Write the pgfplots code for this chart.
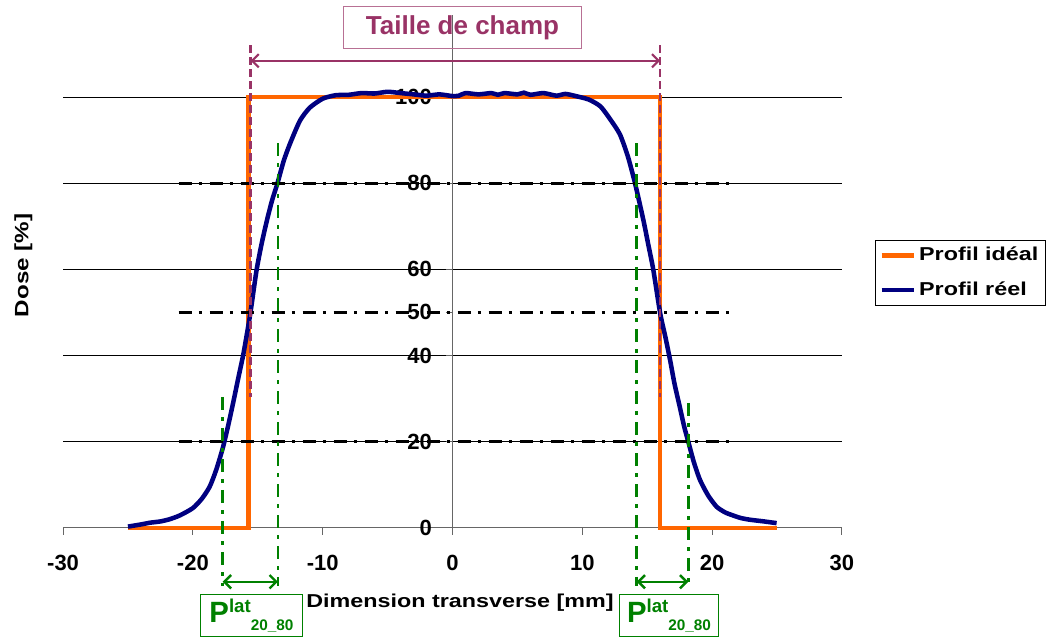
\documentclass[border=0pt]{standalone}
\usepackage{pgfplots}
\pgfplotsset{compat=1.18}
\usepackage{fontspec}
\setmainfont{Liberation Sans}
\newfontfamily\widefont[FakeStretch=1.25]{Liberation Sans}
\usetikzlibrary{arrows.meta}
\definecolor{idealorange}{RGB}{255,102,0}
\definecolor{realnavy}{RGB}{0,0,128}
\definecolor{plum}{RGB}{153,51,102}
\definecolor{pgreen}{RGB}{0,128,0}
\newcommand\fs[1]{\fontsize{#1}{#1}\selectfont}
\newcommand\plat{\bfseries\fs{22}P\raisebox{8pt}{\fs{14}lat}\raisebox{-6pt}{\fs{11.5}20\_80}}
\tikzset{dashdot/.style={dash pattern=on 9.75pt off 5.5pt on 2.5pt off 5.5pt}}
\begin{document}
\begin{tikzpicture}
\begin{axis}[
  x=9.737pt, y=3.2325pt,
  xmin=-30, xmax=30, ymin=0, ymax=119,
  axis x line=bottom, axis y line=center,
  axis line style={-, gray!80!black, line width=0.8pt},
  xtick={-30,-20,...,30},
  ytick={20,40,60,80,100},
  extra y ticks={0,50},
  extra y tick style={grid=none},
  ymajorgrids, grid style={black, line width=0.6pt},
  tick align=outside, major tick length=5pt,
  tick style={gray!80!black, line width=0.8pt},
  hide obscured x ticks=false, hide obscured y ticks=false,
  /pgf/number format/assume math mode=true,
  tick label style={font=\bfseries\fs{16.5}},
  xticklabel style={yshift=-12pt},
  yticklabel style={xshift=-7pt},
  clip=false,
  legend style={at={(axis cs:32.54,66.8)}, anchor=north west, draw=black,
    line width=0.6pt, font=\widefont\bfseries\fs{14}, inner xsep=3pt, inner ysep=2.5pt,
    row sep=8.5pt, cells={anchor=west},
    nodes={inner sep=2pt, text height=10.5pt, text depth=3pt}},
  legend image code/.code={\draw[#1] (0pt,0pt) -- (24.5pt,0pt);},
]
\addplot[idealorange, line width=3.4pt] coordinates {
  (-25,0) (-15.7,0) (-15.7,100) (16,100) (16,0) (25,0)
};
\addlegendentry{Profil idéal}
\addplot[realnavy, line width=3.4pt, smooth, tension=0.4] coordinates {
  (-25,0.3) (-24,0.8) (-23.3,1.2) (-22.5,1.5) (-21.8,2.0) (-21,2.9) (-20,4.6)
  (-19.3,6.8) (-18.7,9.6) (-18.2,13.5) (-17.7,18.5) (-17.3,23.5) (-16.9,29)
  (-16.5,34.8) (-16.1,40.5) (-15.6,49.3) (-15.1,59.7) (-14.7,66) (-14.3,71.3)
  (-13.9,76) (-13.5,79.8) (-13.0,85.2) (-12.5,89.3) (-11.75,94.5) (-11,97.5)
  (-10,99.6) (-9,100.4) (-8,100.5) (-7,100.9) (-6,100.8) (-5,101.2) (-4,100.9)
  (-3,100.6) (-2,100.3) (-1,100.6) (0,100.2) (0.5,100.3) (1,100.9) (2,100.6)
  (3,100.9) (3.5,100.5) (4,100.9) (5,100.6) (5.5,101) (6,100.5) (7,100.9)
  (8,100.3) (8.7,100.7) (9.5,100.2) (10.5,99.4) (11.4,97.8) (12.2,94.6)
  (12.9,91.3) (13.5,86.3) (14.06,80) (14.7,71.5) (15.1,65.5) (15.47,59.9)
  (16.0,49.8) (16.4,44.3) (16.76,39) (17.1,33.5) (17.5,28.2) (17.85,23.5)
  (18.2,19.6) (18.6,15.2) (19.07,11.1) (19.7,7.5) (20.35,4.9) (21,3.6)
  (21.6,2.9) (22.2,2.3) (22.9,1.9) (24,1.5) (24.97,1.1)
};
\addlegendentry{Profil réel}

% niveaux 80 / 50 / 20
\draw[black, line width=2.2pt, dashdot] (axis cs:-21.1,80) -- (axis cs:21.8,80);
\draw[black, line width=2.2pt, dashdot] (axis cs:-21.1,50) -- (axis cs:21.7,50);
\draw[black, line width=2.2pt, dashdot] (axis cs:-21.1,20) -- (axis cs:21.7,20);

% penombres
\draw[pgreen, line width=2pt, dashdot] (axis cs:-17.7,30.4) -- (axis cs:-17.7,-13.5);
\draw[pgreen, line width=2pt, dashdot] (axis cs:-13.45,89.3) -- (axis cs:-13.45,-13.5);
\draw[pgreen, line width=2pt, dashdot] (axis cs:14.19,89.3) -- (axis cs:14.19,-13.5);
\draw[pgreen, line width=2pt, dashdot] (axis cs:18.17,29) -- (axis cs:18.17,-13.5);
\draw[pgreen, line width=1.8pt, {Straight Barb[length=5pt,width=10pt]}-{Straight Barb[length=5pt,width=10pt]}]
  (axis cs:-17.7,-12.5) -- (axis cs:-13.45,-12.5);
\draw[pgreen, line width=1.8pt, {Straight Barb[length=5pt,width=10pt]}-{Straight Barb[length=5pt,width=10pt]}]
  (axis cs:14.19,-12.5) -- (axis cs:18.17,-12.5);
\node[draw=pgreen, line width=0.8pt, text=pgreen, minimum width=77pt,
  minimum height=31.5pt, inner sep=0pt] at (axis cs:-15.49,-20.4) {\plat};
\node[draw=pgreen, line width=0.8pt, text=pgreen, minimum width=74pt,
  minimum height=31.5pt, inner sep=0pt] at (axis cs:16.68,-20.4) {\plat};

% taille de champ
\draw[plum, line width=1.8pt, dash pattern=on 6pt off 3pt] (axis cs:-15.55,112) -- (axis cs:-15.55,30.4);
\draw[plum, line width=1.8pt, dash pattern=on 6pt off 3pt] (axis cs:16,112) -- (axis cs:16,30.4);
\draw[plum, line width=1.6pt, {Straight Barb[length=5pt,width=10pt]}-{Straight Barb[length=5pt,width=10pt]}]
  (axis cs:-15.55,108.4) -- (axis cs:16,108.4);
\node[draw=plum!70, line width=0.8pt, text=plum, font=\bfseries\fs{19.5},
  minimum width=178pt, minimum height=31pt] at (axis cs:0.77,116.1) {Taille de champ};

\node[rotate=90, anchor=base, font=\widefont\bfseries\fs{14.5}] at (axis cs:-32.67,60.9) {Dose [\%]};
\node[anchor=base, font=\widefont\bfseries\fs{14}] at (axis cs:0.58,-18.56) {Dimension transverse [mm]};

\coordinate (bbA) at (axis cs:-34.86,-25.3);
\coordinate (bbB) at (axis cs:45.8,122.5);
\end{axis}
\pgfresetboundingbox
\path[use as bounding box] (bbA) rectangle (bbB);
\end{tikzpicture}
\end{document}
